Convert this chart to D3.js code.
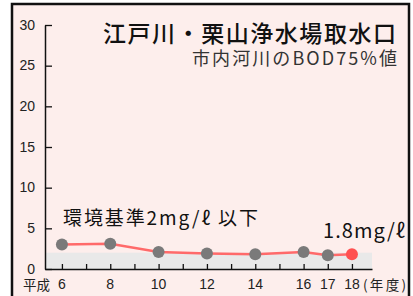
<!DOCTYPE html>
<meta charset="utf-8">
<style>
  body { margin: 0; background: #fff; }
  text { font-family: "Noto Sans CJK JP", sans-serif; }
</style>
<body>
<div id="chart"></div>
<script src="https://d3js.org/d3.v7.min.js"></script>
<script>

// data
var years = [6, 8, 10, 12, 14, 16, 17, 18];
var bod = [3.0, 3.1, 2.1, 1.9, 1.8, 2.1, 1.7, 1.8];
var xTicks = [6, 7, 8, 9, 10, 11, 12, 13, 14, 15, 16, 17, 18];
var xLabels = [6, 8, 10, 12, 14, 16, 17, 18];
var yTicks = [0, 5, 10, 15, 20, 25, 30];
var standard = 2;

var W = 413, H = 296;

var svg = d3.select("#chart")
  .append("svg")
    .attr("width", W)
    .attr("height", H);

// frame
svg.append("rect")
  .attr("x", 12).attr("y", 4)
  .attr("width", 397).attr("height", H + 10)
  .attr("fill", "#fdeeec")
  .attr("stroke", "#111")
  .attr("stroke-width", 2.5);

var x = d3.scaleLinear().domain([5.3, 18.83]).range([45, 372]);
var y = d3.scaleLinear().domain([0, 30]).range([269, 25]);

// grey band for the standard (0 - 2)
svg.append("rect")
  .attr("x", x(5.3))
  .attr("y", y(standard))
  .attr("width", x(18.83) - x(5.3))
  .attr("height", y(0) - y(standard))
  .attr("fill", "#e9e9e9");

// Y axis
var yAxis = svg.append("g")
  .attr("transform", "translate(" + x(5.3) + ",0)")
  .call(d3.axisRight(y).tickValues(yTicks).tickSize(7).tickSizeOuter(0));
yAxis.select(".domain").attr("stroke", "#111").attr("stroke-width", 1.5);
yAxis.selectAll(".tick line").attr("stroke", "#111").attr("stroke-width", 1.3);
yAxis.selectAll(".tick text")
  .attr("x", -10)
  .attr("dy", "0.3em")
  .attr("text-anchor", "end")
  .attr("fill", "#222")
  .style("font-family", "'Liberation Sans', Arial, sans-serif")
  .style("font-size", "14px");

// X axis (ticks point up into the plot)
var xAxis = svg.append("g")
  .attr("transform", "translate(0," + y(0) + ")")
  .call(d3.axisTop(x).tickValues(xTicks).tickSize(5).tickSizeOuter(0).tickFormat(""));
xAxis.select(".domain").attr("stroke", "#111").attr("stroke-width", 1.5);
xAxis.selectAll(".tick line").attr("stroke", "#111").attr("stroke-width", 1.3);

svg.append("g").selectAll("text")
  .data(xLabels)
  .enter()
  .append("text")
    .attr("x", function(d) { return x(d); })
    .attr("y", 289)
    .attr("text-anchor", "middle")
    .attr("fill", "#222")
    .style("font-family", "'Liberation Sans', Arial, sans-serif")
    .style("font-size", "14px")
    .text(function(d) { return d; });

svg.append("text")
  .attr("x", 23).attr("y", 290)
  .attr("fill", "#222")
  .style("font-size", "13.5px")
  .text("平成");

svg.append("text")
  .attr("x", 363).attr("y", 290)
  .attr("fill", "#222")
  .style("font-size", "13.5px")
  .attr("textLength", 43)
  .text("(年度)");

// line
var pts = years.map(function(d, i) { return [d, bod[i]]; });
svg.append("path")
  .datum(pts)
  .attr("fill", "none")
  .attr("stroke", "#ff6a6a")
  .attr("stroke-width", 2.5)
  .attr("d", d3.line()
    .x(function(d) { return x(d[0]); })
    .y(function(d) { return y(d[1]); }));

svg.selectAll("circle.pt")
  .data(pts)
  .enter()
  .append("circle")
    .attr("class", "pt")
    .attr("cx", function(d) { return x(d[0]); })
    .attr("cy", function(d) { return y(d[1]); })
    .attr("r", 6)
    .attr("fill", function(d, i) { return i == pts.length - 1 ? "#ff5050" : "#7a7a7a"; });

// titles
svg.append("text")
  .attr("x", 103).attr("y", 42)
  .attr("fill", "#111")
  .style("font-size", "23px")
  .style("font-weight", "500")
  .attr("textLength", 293)
  .text("江戸川・栗山浄水場取水口");

svg.append("text")
  .attr("x", 192).attr("y", 65)
  .attr("fill", "#333")
  .style("font-size", "18px")
  .attr("textLength", 205)
  .text("市内河川のBOD75%値");

svg.append("text")
  .attr("x", 63).attr("y", 225)
  .attr("fill", "#111")
  .style("font-size", "19px")
  .attr("textLength", 195)
  .text("環境基準2mg/ℓ 以下");

svg.append("text")
  .attr("x", 323).attr("y", 238)
  .attr("fill", "#111")
  .style("font-size", "20px")
  .attr("textLength", 82)
  .text("1.8mg/ℓ");

</script>
</body>
